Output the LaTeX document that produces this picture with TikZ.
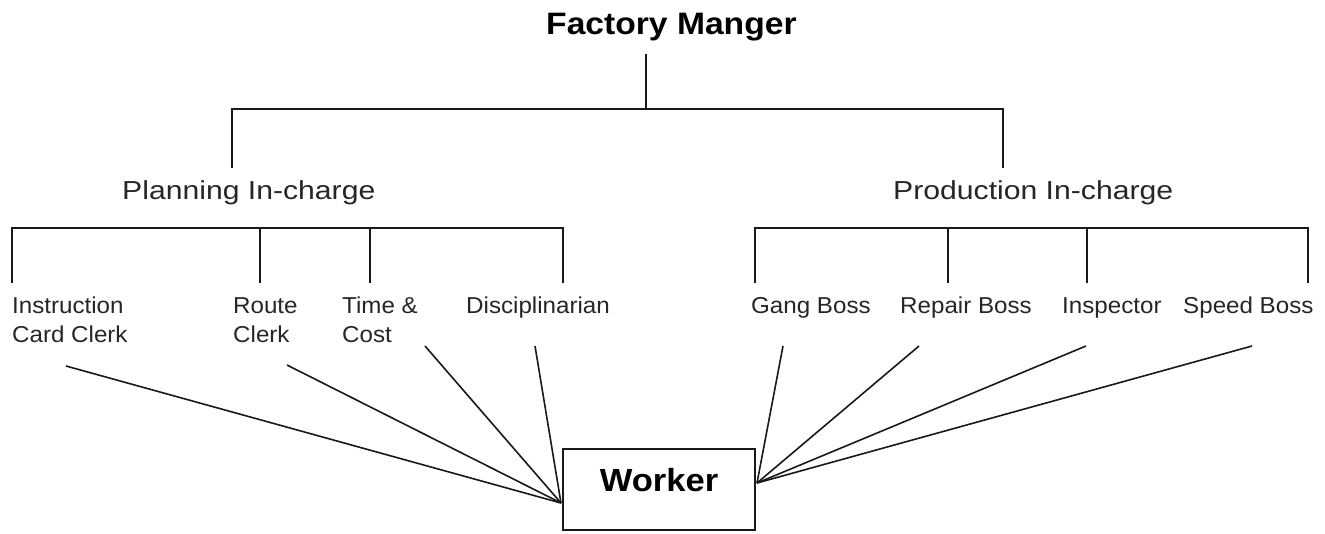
\documentclass[tikz,border=0pt]{standalone}
\usepackage{fontspec}
\newfontfamily\titlef[FakeStretch=1.085]{Liberation Sans}
\newfontfamily\workf[FakeStretch=1.08]{Liberation Sans}
\newfontfamily\midf[FakeStretch=1.16]{Liberation Sans}
\newfontfamily\smallf[FakeStretch=1.05]{Liberation Sans}
\begin{document}
\begin{tikzpicture}[x=1pt,y=-1pt,
  conn/.style={line width=1.6pt, draw=black!90},
  titletext/.style={inner sep=0pt, anchor=north west, text=black, font=\titlef\bfseries\fontsize{31}{37}\selectfont},
  midtext/.style={inner sep=0pt, anchor=north west, text=black!85, font=\midf\fontsize{26}{31}\selectfont},
  smalltext/.style={inner sep=0pt, anchor=north west, align=left, text=black!85, font=\smallf\fontsize{23}{29}\selectfont},
  wbox/.style={draw=black!90, line width=1.6pt, minimum width=192pt, minimum height=81pt, inner sep=0pt,
    text height=23pt, text depth=19pt, font=\workf\bfseries\fontsize{32}{38}\selectfont}
]
\useasboundingbox[fill=white] (0,0) rectangle (1325,533);

% nodes
\node[titletext] (fm) at (546,13) {Factory Manger};
\node[midtext] (pl) at (122,180) {Planning In-charge};
\node[midtext] (pr) at (893,180) {Production In-charge};

\node[smalltext] (ic) at (12,297) {Instruction\\Card Clerk};
\node[smalltext] (rc) at (233,297) {Route\\Clerk};
\node[smalltext] (tc) at (342,297) {Time \&\\Cost};
\node[smalltext] (dc) at (466,297) {Disciplinarian};
\node[smalltext] (gb) at (751,297) {Gang Boss};
\node[smalltext] (rb) at (900,297) {Repair Boss};
\node[smalltext] (insp) at (1062,297) {Inspector};
\node[smalltext] (sb) at (1183,297) {Speed Boss};

\node[wbox] (w) at (659,489.5) {Worker};

% tree coordinates
\coordinate (fmb) at (646,54);
\coordinate (bar) at (646,109);
\coordinate (plt) at (232,168);
\coordinate (prt) at (1003,168);

\coordinate (lb1) at (12,283);
\coordinate (lb2) at (260,283);
\coordinate (lb3) at (370,283);
\coordinate (lb4) at (563,283);
\coordinate (rb1) at (755,283);
\coordinate (rb2) at (948,283);
\coordinate (rb3) at (1087,283);
\coordinate (rb4) at (1308,283);

\draw[conn] (fmb) -- (bar);
\draw[conn] (plt) |- (bar) -| (prt);

\draw[conn] (lb1) |- (lb4 |- 0,228) -- (lb4);
\draw[conn] (lb2) -- (lb2 |- 0,228);
\draw[conn] (lb3) -- (lb3 |- 0,228);
\draw[conn] (rb1) |- (rb4 |- 0,228) -- (rb4);
\draw[conn] (rb2) -- (rb2 |- 0,228);
\draw[conn] (rb3) -- (rb3 |- 0,228);

% lines to worker
\coordinate (wl) at (561,503);
\coordinate (wr) at (757,483);
\coordinate (ics) at (66,366);
\coordinate (rcs) at (287,365);
\coordinate (tcs) at (425,346);
\coordinate (dcs) at (535,346);
\coordinate (gbs) at (783,346);
\coordinate (rbs) at (919,346);
\coordinate (insps) at (1086,346);
\coordinate (sbs) at (1252,346);

\foreach \s in {ics,rcs,tcs,dcs} \draw[conn] (\s) -- (wl);
\foreach \s in {gbs,rbs,insps,sbs} \draw[conn] (\s) -- (wr);
\end{tikzpicture}
\end{document}
